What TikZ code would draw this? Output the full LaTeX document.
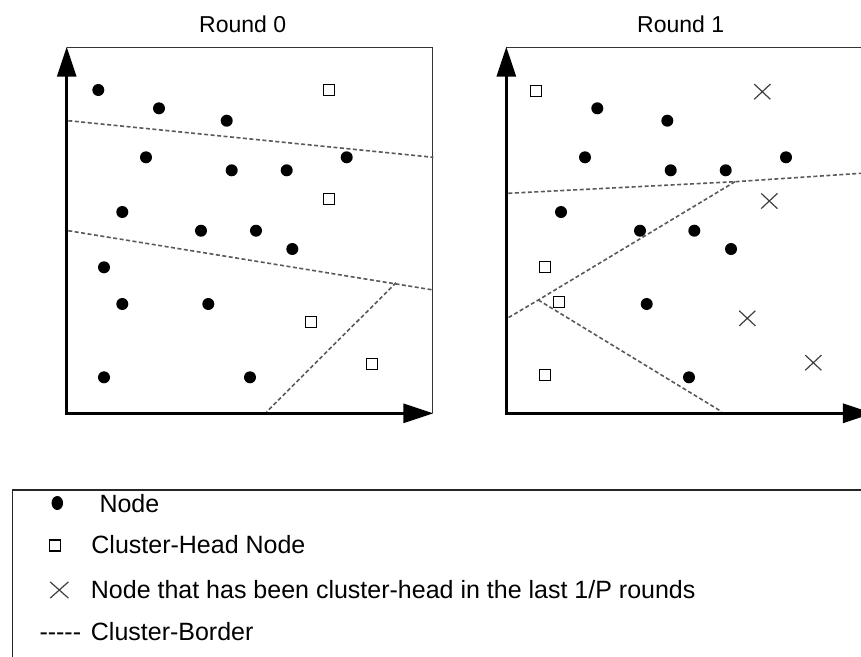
\documentclass[tikz,border=0pt]{standalone}
\usepackage{fontspec}
\setmainfont{Liberation Sans}
\usetikzlibrary{arrows.meta,shapes.misc,shapes.geometric}

\begin{document}
\begin{tikzpicture}[x=1pt,y=-1pt,
  axis/.style={line width=3pt,
    {Triangle[length=30pt,width=19pt]}-{Triangle[length=30pt,width=19pt]}},
  frame/.style={line width=1.3pt, draw=black!80},
  sensor/.style={circle, fill=black, inner sep=0pt, minimum size=12pt},
  chead/.style={rectangle, draw, line width=1.3pt, inner sep=0pt, minimum size=11pt},
  oldch/.style={cross out, draw=black!75, line width=1.2pt, inner sep=0pt,
    minimum width=15pt, minimum height=14pt},
  border/.style={draw=black!65, line width=1.6pt, dash pattern=on 4pt off 2.5pt},
  title/.style={font=\fontsize{23}{28}\selectfont, anchor=base, inner sep=0pt},
  legtext/.style={font=\fontsize{25}{30}\selectfont, anchor=base west, inner sep=0pt}
]
\useasboundingbox (0,0) rectangle (861,656);

% ---------------- Round 0 ----------------
\node[title] (t0) at (242.7,32.3) {Round 0};
\coordinate (a0top) at (66.7,46.7);
\coordinate (a0org) at (66.7,413.3);
\coordinate (a0end) at (433.3,413.3);
\coordinate (f0tl) at (66.7,47.3);
\coordinate (f0tr) at (432.7,47.3);
\coordinate (f0br) at (432.7,413.3);
\draw[frame] (f0tl) -- (f0tr) -- (f0br);
\draw[axis] (a0top) -- (a0org) -- (a0end);

% cluster borders
\draw[border] (68.3,120.7) -- (433.3,157.3);
\draw[border] (68.3,230.7) -- (433.3,290);
\draw[border] (396,282.7) -- (266.7,411.7);

% ordinary nodes
\foreach \x/\y [count=\i] in {98.3/90, 159/108.3, 226.7/120.7, 146/157.3,
    231.7/170.3, 286.7/170.3, 346.7/157.3, 122.3/212, 201/230.7, 256/230.7,
    292.3/249, 104/267.3, 122.3/304, 208.3/304, 104/377.3, 250/377.3}
  \node[sensor] (l0n\i) at (\x,\y) {};

% cluster heads
\foreach \x/\y [count=\i] in {328.7/90, 328.7/199.3, 310.7/322.3, 372.3/364.3}
  \node[chead] (l0h\i) at (\x,\y) {};

% ---------------- Round 1 ----------------
\node[title] (t1) at (680.7,32.3) {Round 1};
\coordinate (a1top) at (506.3,46.7);
\coordinate (a1org) at (506.3,413.3);
\coordinate (a1end) at (872.9,413.3);
\coordinate (f1tl) at (506.3,47.3);
\coordinate (f1tr) at (880,47.3);
\draw[frame] (f1tl) -- (f1tr);
\draw[axis] (a1top) -- (a1org) -- (a1end);

% cluster borders
\coordinate (j1) at (735,181.7);
\coordinate (j2) at (538.3,300);
\draw[border] (508.3,193.3) -- (j1) -- (861,173.3);
\draw[border] (j1) -- (j2) -- (508.3,317.7);
\draw[border] (j2) -- (721.7,411.7);

% ordinary nodes
\foreach \x/\y [count=\i] in {597.3/108.3, 667.3/120.7, 585/157.3, 670.7/170.3,
    725.7/170.3, 786/157.3, 561/212, 640/230.7, 694.3/230.7, 731/249,
    646.7/304, 689/377.3}
  \node[sensor] (l1n\i) at (\x,\y) {};

% cluster heads
\foreach \x/\y [count=\i] in {535.7/91, 545/266.7, 559/301.7, 545/375}
  \node[chead] (l1h\i) at (\x,\y) {};

% nodes that were cluster-head recently
\foreach \x/\y [count=\i] in {762.3/91.7, 769.3/201, 747.3/318.3, 813.3/362.7}
  \node[oldch] (l1x\i) at (\x,\y) {};

% ---------------- Legend ----------------
\coordinate (lgtl) at (12.3,490);
\coordinate (lgbr) at (880,680);
\draw[line width=1.5pt, draw=black!85] (lgtl) rectangle (lgbr);

\node[ellipse, fill=black, inner sep=0pt, minimum width=11.5pt, minimum height=14pt]
  (kdot) at (57.3,503) {};
\node[legtext] (kdott) at (99.3,512) {Node};

\node[chead, minimum size=11pt] (ksq) at (55,545.5) {};
\node[legtext] (ksqt) at (91.2,553.3) {Cluster-Head Node};

\node[oldch, minimum width=17pt, minimum height=15pt] (kx) at (59.3,590) {};
\node[legtext] (kxt) at (90.7,598.3)
  {Node that has been cluster-head in the last 1/P rounds};

\node[legtext] (kbd) at (39.3,640) {-{}-{}-{}-{}-};
\node[legtext] (kbdt) at (90.7,640) {Cluster-Border};
\end{tikzpicture}
\end{document}
